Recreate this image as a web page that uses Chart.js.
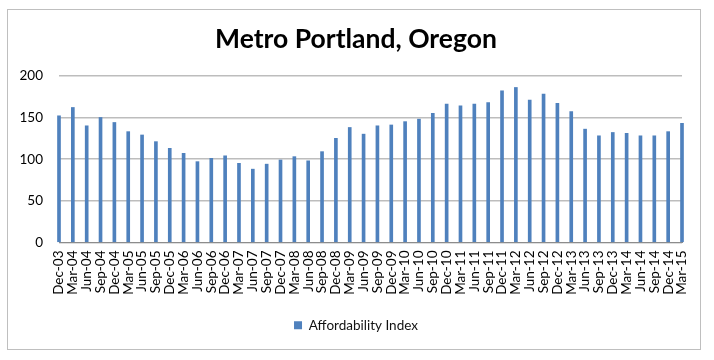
<!DOCTYPE html>
<html>
<head>
<meta charset="utf-8">
<script src="https://cdn.jsdelivr.net/npm/chart.js@4/dist/chart.umd.min.js"></script>
<style>
  html, body { margin: 0; padding: 0; background: #ffffff; }
  #wrap { position: relative; width: 714px; height: 360px; }
</style>
</head>
<body>
<div id="wrap"><canvas id="c" width="714" height="360"></canvas></div>
<script>
const chartTitle = "Metro Portland, Oregon";
const seriesName = "Affordability Index";
const categories = [
  "Dec-03","Mar-04","Jun-04","Sep-04","Dec-04","Mar-05","Jun-05","Sep-05","Dec-05",
  "Mar-06","Jun-06","Sep-06","Dec-06","Mar-07","Jun-07","Sep-07","Dec-07",
  "Mar-08","Jun-08","Sep-08","Dec-08","Mar-09","Jun-09","Sep-09","Dec-09",
  "Mar-10","Jun-10","Sep-10","Dec-10","Mar-11","Jun-11","Sep-11","Dec-11",
  "Mar-12","Jun-12","Sep-12","Dec-12","Mar-13","Jun-13","Sep-13","Dec-13",
  "Mar-14","Jun-14","Sep-14","Dec-14","Mar-15"
];
const affordabilityIndex = [
  152,162,140,150,144,133,129,121,113,
  107,97,101,104,95,88,94,99,
  103,98,109,125,138,130,140,141,
  145,148,155,166,164,166,168,182,
  186,171,178,167,157,136,128,132,
  131,128,128,133,143
];
const yTicks = [0, 50, 100, 150, 200];

const FONT = "Lato, 'Liberation Sans', sans-serif";

const framePlugin = {
  id: 'frame',
  beforeDraw(chart) {
    const ctx = chart.ctx;
    ctx.save();
    ctx.fillStyle = '#ffffff';
    ctx.fillRect(0, 0, chart.width, chart.height);
    ctx.strokeStyle = '#bfbfbf';
    ctx.lineWidth = 1;
    ctx.strokeRect(7.5, 9.5, 693, 340);
    ctx.restore();
  }
};

new Chart(document.getElementById('c'), {
  type: 'bar',
  data: {
    labels: categories,
    datasets: [{
      label: seriesName,
      data: affordabilityIndex,
      backgroundColor: '#4F81BD',
      borderWidth: 0,
      barThickness: 3,
      clip: false,
      yAxisID: 'y'
    }]
  },
  options: {
    responsive: false,
    animation: false,
    devicePixelRatio: 1,
    layout: { padding: { left: 19, right: 21, top: 0, bottom: 18 } },
    plugins: {
      title: {
        display: true,
        text: chartTitle,
        color: '#000000',
        font: { family: FONT, size: 26.5, weight: 'bold' },
        padding: { top: 24, bottom: 20 },
        lineHeight: 1.2
      },
      legend: {
        display: true,
        position: 'bottom',
        labels: {
          color: '#111111',
          font: { family: FONT, size: 13.5 },
          boxWidth: 8,
          boxHeight: 8,
          padding: 8
        }
      },
      tooltip: { enabled: false }
    },
    scales: {
      x: {
        offset: false,
        grid: { display: false, offset: false, drawTicks: false },
        border: { display: true, color: '#8c8c8c', width: 1 },
        ticks: {
          autoSkip: false,
          minRotation: 90,
          maxRotation: 90,
          padding: 8,
          color: '#000000',
          font: { family: FONT, size: 13.5 }
        },
        afterFit(scale) { scale.height = 68; }
      },
      y: {
        position: 'left',
        min: 0,
        max: 200,
        afterBuildTicks(scale) { scale.ticks = yTicks.map(v => ({ value: v })); },
        grid: { color: '#bdbdbd', lineWidth: 1.5, drawTicks: false },
        border: { display: false },
        ticks: {
          padding: 16,
          color: '#000000',
          font: { family: FONT, size: 13.5 }
        },
        afterFit(scale) { scale.width = 40; }
      },
      yRight: {
        position: 'right',
        display: true,
        grid: { display: false, drawTicks: false },
        border: { display: false },
        ticks: { display: false },
        afterFit(scale) { scale.width = 11; }
      }
    }
  },
  plugins: [framePlugin]
});
</script>
</body>
</html>
